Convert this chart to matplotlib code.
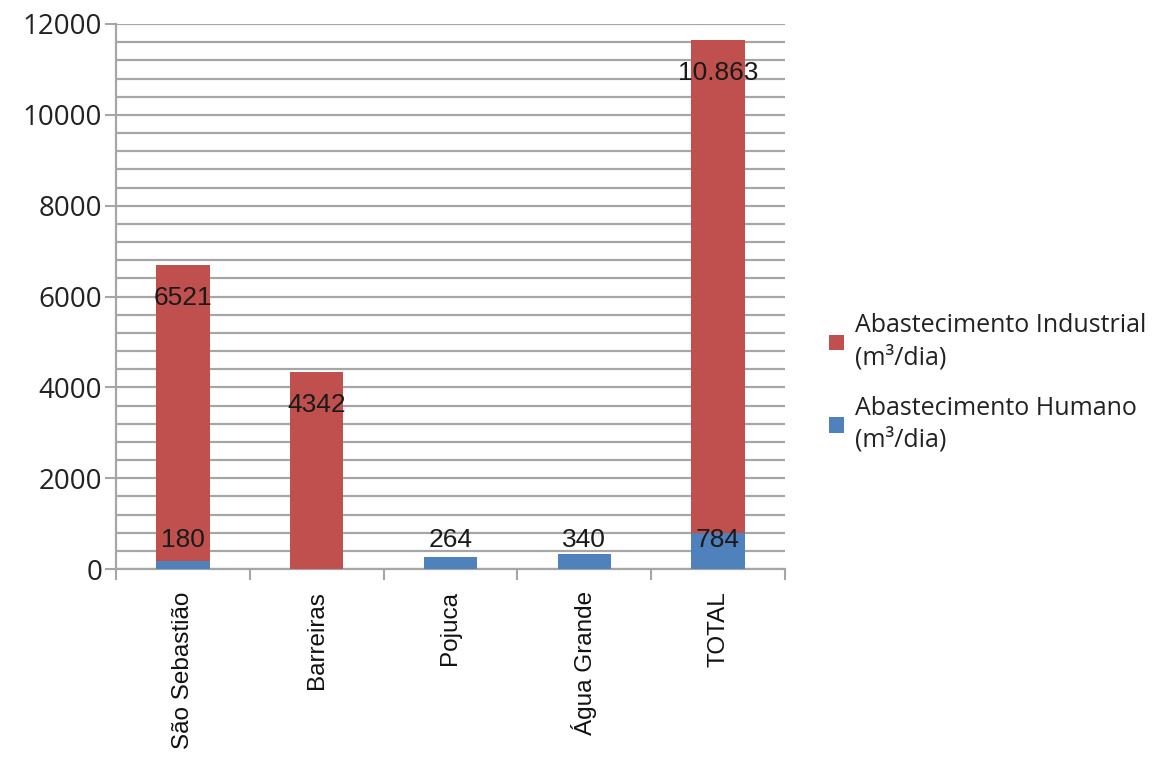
import matplotlib
matplotlib.use("Agg")
import matplotlib.pyplot as plt
import numpy as np
from matplotlib.ticker import MultipleLocator

categories = ["São Sebastião", "Barreiras", "Pojuca", "Água Grande", "TOTAL"]
humano = [180, 0, 264, 340, 784]
industrial = [6521, 4342, 0, 0, 10863]
humano_labels = ["180", "", "264", "340", "784"]
industrial_labels = ["6521", "4342", "", "", "10.863"]
yticks = [0, 2000, 4000, 6000, 8000, 10000, 12000]

red = "#C0504D"
blue = "#4F81BD"
grid_c = "#A6A6A6"

plt.rcParams['font.family'] = ['Open Sans', 'DejaVu Sans']

fig = plt.figure(figsize=(11.7, 7.58), dpi=100)
ax = fig.add_axes([116/1170, 1-569/758, (785-116)/1170, (569-24)/758])

x = np.arange(len(categories))
w = 0.4
ax.bar(x, humano, w, color=blue, zorder=3, label="Abastecimento Humano\n(m³/dia)")
ax.bar(x, industrial, w, bottom=humano, color=red, zorder=3, label="Abastecimento Industrial\n(m³/dia)")

lab_font = ['Liberation Sans', 'DejaVu Sans']
for i in range(len(categories)):
    if humano_labels[i]:
        ax.text(x[i], 640, humano_labels[i], ha='center', va='center', fontsize=19,
                family=lab_font, color='#1a1a1a', zorder=4)
    if industrial_labels[i]:
        top = humano[i] + industrial[i]
        ax.text(x[i], top - 730, industrial_labels[i], ha='center', va='center', fontsize=19,
                family=lab_font, color='#1a1a1a', zorder=4)

ax.set_xlim(-0.5, len(categories) - 0.5)
ax.set_ylim(0, 12000)
ax.set_yticks(yticks)
ax.set_yticklabels([str(v) for v in yticks], fontsize=20, color='#222222')
ax.yaxis.set_minor_locator(MultipleLocator(400))
ax.grid(True, which='both', axis='y', color=grid_c, linewidth=1.6, zorder=0)
ax.tick_params(axis='y', which='major', length=8, width=1.5, color=grid_c, pad=2)
ax.tick_params(axis='y', which='minor', length=0)

ax.set_xticks(x)
ax.set_xticklabels(categories, rotation=90, fontsize=17.5, family=['Liberation Sans', 'DejaVu Sans'],
                   va='top', color='#111111')
ax.set_xticks(np.arange(-0.5, len(categories)), minor=True)
ax.tick_params(axis='x', which='major', length=0, pad=16)
ax.tick_params(axis='x', which='minor', length=8, width=1.5, color=grid_c)

for s in ['top', 'right']:
    ax.spines[s].set_visible(False)
for s in ['left', 'bottom']:
    ax.spines[s].set_color(grid_c)
    ax.spines[s].set_linewidth(1.6)

handles, labels = ax.get_legend_handles_labels()
leg = fig.legend(handles[::-1], labels[::-1], loc='center left', bbox_to_anchor=(806/1170, 1-383/758),
                 frameon=False, fontsize=18, handlelength=0.6, handleheight=0.6, handletextpad=0.45,
                 labelspacing=1.0)
for t in leg.get_texts():
    t.set_linespacing(1.35)
    t.set_color('#222222')

fig.savefig("out.png", dpi=100)
